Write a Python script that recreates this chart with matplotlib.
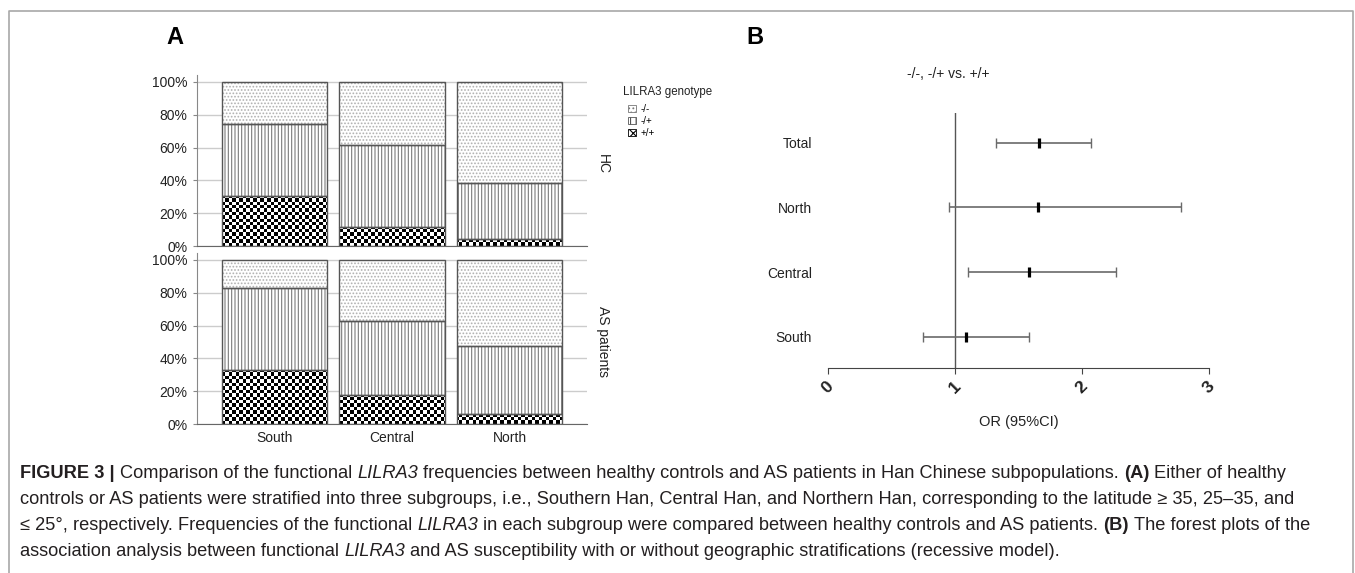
import numpy as np
import matplotlib
matplotlib.use("Agg")
import matplotlib.pyplot as plt
from matplotlib.patches import Patch

plt.rcParams['font.family'] = ['Liberation Sans', 'DejaVu Sans']
plt.rcParams['hatch.linewidth'] = 0.8

# Panel A: genotype frequencies (%) per subgroup
regions = ["South", "Central", "North"]
hc_pp = [30.4, 11.4, 4.1]
hc_mp = [44.2, 49.9, 34.6]
hc_mm = [25.4, 38.7, 61.3]
as_pp = [32.7, 17.6, 5.9]
as_mp = [50.5, 45.3, 41.4]
as_mm = [16.8, 37.1, 52.7]
genotypes = ["-/-", "-/+", "+/+"]

# Panel B: odds ratios with 95% CI
groups = ["Total", "North", "Central", "South"]
or_est = [1.66, 1.65, 1.58, 1.09]
or_lo = [1.32, 0.95, 1.10, 0.75]
or_hi = [2.07, 2.78, 2.27, 1.58]

W, H = 1355, 573
TXT = "#222222"


def fx(px):
  return px / W


def fy(py):
  return 1 - py / H


def stacked(ax, pp, mp, mm):
  x = np.arange(len(regions))
  # +/+ checkerboard
  bars = ax.bar(x, pp, width=0.9, color="white", linewidth=0, zorder=2)
  checker = np.indices((50, 112)).sum(axis=0) % 2
  for b in bars:
    im = ax.imshow(checker, cmap="gray", extent=(-0.66, 2.66, 0, 104),
                   aspect="auto", interpolation="nearest", zorder=2.5)
    im.set_clip_path(b)
  # -/+ vertical lines
  ax.bar(x, mp, bottom=pp, width=0.9, color="white", edgecolor="#7a7a7a",
         hatch="|||||", linewidth=0, zorder=2)
  # -/- dots
  bot = [a + b for a, b in zip(pp, mp)]
  ax.bar(x, mm, bottom=bot, width=0.9, color="white", edgecolor="#b0b0b0",
         hatch=".....", linewidth=0, zorder=2)
  # outlines
  for vals, b0 in [(pp, [0] * 3), (mp, pp), (mm, bot)]:
    ax.bar(x, vals, bottom=b0, width=0.9, fill=False, edgecolor="#555555",
           linewidth=1.0, zorder=3)
  ax.set_xlim(-0.66, 2.66)
  ax.set_ylim(0, 104)
  ax.set_yticks([0, 20, 40, 60, 80, 100])
  ax.set_yticklabels(["0%", "20%", "40%", "60%", "80%", "100%"], fontsize=10, color=TXT)
  ax.yaxis.grid(True, color="#cccccc", linewidth=1.0, zorder=0)
  ax.set_axisbelow(True)
  for s in ["top", "right"]:
    ax.spines[s].set_visible(False)
  ax.spines["left"].set_color("#888888")
  ax.spines["bottom"].set_color("#666666")
  ax.tick_params(axis="y", length=3, color="#888888", pad=4)
  ax.tick_params(axis="x", length=0)
  ax.set_xticks(x)


fig = plt.figure(figsize=(W / 100, H / 100), dpi=100)

# frame
fig.add_artist(plt.Line2D([fx(9), fx(9), fx(1353), fx(1353)],
                          [0, fy(11), fy(11), 0], color="#a8a8a8", linewidth=1.2))

axh = fig.add_axes([fx(197), fy(246), fx(587 - 197), 170.6 / H])
stacked(axh, hc_pp, hc_mp, hc_mm)
axh.set_xticklabels([])

axa = fig.add_axes([fx(197), fy(424), fx(587 - 197), 170.6 / H])
stacked(axa, as_pp, as_mp, as_mm)
axa.set_xticklabels(regions, fontsize=10, color=TXT)
axa.tick_params(axis="x", pad=5)

fig.text(fx(603), fy(164), "HC", rotation=270, ha="center", va="center", fontsize=10, color=TXT)
fig.text(fx(603), fy(342), "AS patients", rotation=270, ha="center", va="center", fontsize=10, color=TXT)

handles = [Patch(facecolor="white", edgecolor="#777777", hatch="....", linewidth=0.6),
           Patch(facecolor="white", edgecolor="#555555", hatch="|||", linewidth=0.6),
           Patch(facecolor="white", edgecolor="black", hatch="xxxx", linewidth=0.6)]
fig.text(fx(623), fy(92), "LILRA3 genotype", fontsize=8.3, color=TXT, va="center")
fig.legend(handles, genotypes, loc="upper left", bbox_to_anchor=(fx(626), fy(102)),
           frameon=False, fontsize=7, handlelength=0.85, handleheight=0.85,
           handletextpad=0.4, labelspacing=0.2, borderpad=0.2, borderaxespad=0)

fig.text(fx(175), fy(38), "A", fontsize=17, fontweight="bold", ha="center", va="center", color="black")
fig.text(fx(755), fy(38), "B", fontsize=17, fontweight="bold", ha="center", va="center", color="black")

# Panel B forest plot
axb = fig.add_axes([fx(828), fy(368), fx(1209 - 828), (368 - 113) / H])
ypos = np.arange(len(groups), 0, -1)
err = [np.subtract(or_est, or_lo), np.subtract(or_hi, or_est)]
axb.errorbar(or_est, ypos, xerr=err, fmt="none", ecolor="#6a6a6a", elinewidth=1.2,
             capsize=3.6, capthick=1.0, zorder=2)
axb.plot(or_est, ypos, linestyle="none", marker="|", markersize=7.5, markeredgewidth=2.3,
         color="black", zorder=3)
axb.axvline(1, color="#555555", linewidth=1.0, zorder=1)
axb.set_xlim(0, 3)
axb.set_ylim(0.52, 4.46)
axb.set_yticks(ypos)
axb.set_yticklabels(groups, fontsize=10, color=TXT)
axb.tick_params(axis="y", length=0, pad=11.5)
axb.set_xticks([0, 1, 2, 3])
axb.set_xticklabels(["0", "1", "2", "3"], fontsize=12.5, fontweight="bold", color=TXT)
plt.setp(axb.get_xticklabels(), rotation=45, ha="center")
axb.tick_params(axis="x", length=4, color="#444444", pad=4)
for s in ["top", "right", "left"]:
  axb.spines[s].set_visible(False)
axb.spines["bottom"].set_color("#444444")
axb.set_xlabel("OR (95%CI)", fontsize=10.5, color=TXT, labelpad=13)
fig.text(fx(948), fy(74), "-/-, -/+ vs. +/+", fontsize=10, ha="center", va="center", color=TXT)

# caption
CAP = 13.15
space = CAP * 100 / 72 * 0.278
lines = [
  (474, [("FIGURE 3 |", "bold", "normal"),
         (" Comparison of the functional ", "normal", "normal"),
         ("LILRA3", "normal", "italic"),
         (" frequencies between healthy controls and AS patients in Han Chinese subpopulations. ", "normal", "normal"),
         ("(A)", "bold", "normal"),
         (" Either of healthy", "normal", "normal")]),
  (500, [("controls or AS patients were stratified into three subgroups, i.e., Southern Han, Central Han, and Northern Han, corresponding to the latitude \u2265 35, 25\u201335, and", "normal", "normal")]),
  (526, [("\u2264 25\u00b0, respectively. Frequencies of the functional ", "normal", "normal"),
         ("LILRA3", "normal", "italic"),
         (" in each subgroup were compared between healthy controls and AS patients. ", "normal", "normal"),
         ("(B)", "bold", "normal"),
         (" The forest plots of the", "normal", "normal")]),
  (551, [("association analysis between functional ", "normal", "normal"),
         ("LILRA3", "normal", "italic"),
         (" and AS susceptibility with or without geographic stratifications (recessive model).", "normal", "normal")]),
]
renderer = fig.canvas.get_renderer()
for ly, runs in lines:
  x = 20.0
  for txt, weight, style in runs:
    lead = len(txt) - len(txt.lstrip(" "))
    trail = len(txt) - len(txt.rstrip(" "))
    x += lead * space
    t = fig.text(fx(x), fy(ly), txt.strip(), fontsize=CAP, fontweight=weight,
                 fontstyle=style, va="center", ha="left", color="#231f20")
    x += t.get_window_extent(renderer).width
    x += trail * space

fig.savefig("out.png", dpi=100)
